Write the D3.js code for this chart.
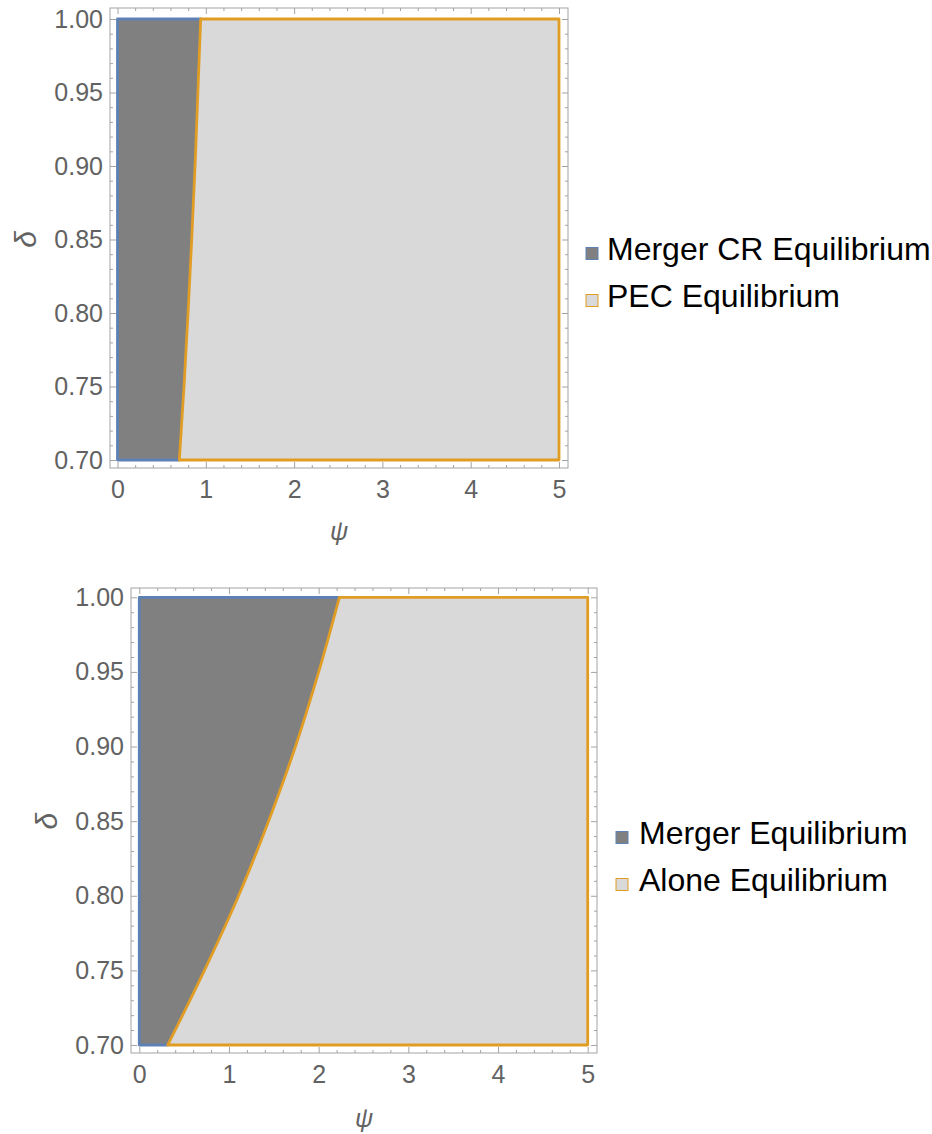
<!DOCTYPE html>
<html>
<head>
<meta charset="utf-8">
<script src="https://cdn.jsdelivr.net/npm/d3@7"></script>
<style>
  html, body { margin: 0; padding: 0; background: #fff; }
  svg { display: block; }
</style>
</head>
<body>
<svg id="chart" width="932" height="1134"></svg>
<script>
// Region boundaries: the ψ value at which the equilibrium switches, for each δ
const deltaGrid = [1.00, 0.95, 0.90, 0.85, 0.80, 0.75, 0.70];
const psiBoundaryCR = [0.942, 0.910, 0.878, 0.840, 0.799, 0.753, 0.700];
const psiBoundaryMerger = [2.231, 2.000, 1.741, 1.441, 1.107, 0.726, 0.317];

const psiDomain = [0, 5];
const deltaDomain = [0.70, 1.00];
const psiMajorTicks = [0, 1, 2, 3, 4, 5];
const deltaMajorTicks = [0.70, 0.75, 0.80, 0.85, 0.90, 0.95, 1.00];

const legendTop = ["Merger CR Equilibrium", "PEC Equilibrium"];
const legendBottom = ["Merger Equilibrium", "Alone Equilibrium"];

const FILL_DARK = "#808080";
const FILL_LIGHT = "#d9d9d9";
const EDGE_BLUE = "#5e81b5";
const EDGE_ORANGE = "#e19c24";
const FRAME = "#a3a3a3";
const LABEL = "#626262";
const FONT = "'Liberation Sans', Arial, Helvetica, sans-serif";

const svg = d3.select("#chart");

function minorValues(lo, hi, step, majors) {
  const out = [];
  const n = Math.round((hi - lo) / step);
  for (let i = 0; i <= n; i++) {
    const v = +(lo + i * step).toFixed(4);
    if (!majors.some(m => Math.abs(m - v) < 1e-9)) out.push(v);
  }
  return out;
}

function drawPanel(cfg) {
  const { frame, plotX, plotY, boundary, labels, legend } = cfg;
  const x = d3.scaleLinear().domain(psiDomain).range(plotX);
  const y = d3.scaleLinear().domain(deltaDomain).range(plotY);
  const g = svg.append("g");

  const pts = deltaGrid.map((d, i) => [x(boundary[i]), y(d)]);
  const curve = d3.line().curve(d3.curveMonotoneY)(pts);
  const curveAsLine = "L" + curve.slice(1);

  // left region (dark), outlined in blue
  const leftPath = `M${x(0)},${y(0.70)}L${x(0)},${y(1.00)}` + curveAsLine + "Z";
  g.append("path")
    .attr("d", leftPath)
    .attr("fill", FILL_DARK)
    .attr("stroke", EDGE_BLUE)
    .attr("stroke-width", 2.8)
    .attr("stroke-linejoin", "round");

  // right region (light), outlined in orange
  const rightPath = curve + `L${x(5)},${y(0.70)}L${x(5)},${y(1.00)}Z`;
  g.append("path")
    .attr("d", rightPath)
    .attr("fill", FILL_LIGHT)
    .attr("stroke", EDGE_ORANGE)
    .attr("stroke-width", 2.8)
    .attr("stroke-linejoin", "round");

  // frame
  g.append("rect")
    .attr("x", frame[0]).attr("y", frame[1])
    .attr("width", frame[2] - frame[0]).attr("height", frame[3] - frame[1])
    .attr("fill", "none").attr("stroke", FRAME).attr("stroke-width", 1);

  const psiMinor = minorValues(0, 5, 0.2, psiMajorTicks);
  const deltaMinor = minorValues(0.70, 1.00, 0.01, deltaMajorTicks);

  function styleAxis(sel) {
    sel.select(".domain").remove();
    sel.selectAll(".tick line").attr("stroke", FRAME).attr("stroke-width", 1);
    sel.selectAll(".tick text")
      .attr("fill", LABEL)
      .attr("font-family", FONT)
      .attr("font-size", 25);
  }

  const axes = [
    [() => d3.axisBottom(x), `translate(0,${frame[3]})`, psiMajorTicks, psiMinor, d3.format("d"), 12],
    [() => d3.axisTop(x), `translate(0,${frame[1]})`, psiMajorTicks, psiMinor, null, 0],
    [() => d3.axisLeft(y), `translate(${frame[0]},0)`, deltaMajorTicks, deltaMinor, d3.format(".2f"), 7],
    [() => d3.axisRight(y), `translate(${frame[2]},0)`, deltaMajorTicks, deltaMinor, null, 0]
  ];
  axes.forEach(([make, tr, majors, minors, fmt, pad]) => {
    const major = make().tickValues(majors).tickSize(-6).tickPadding(pad)
      .tickFormat(fmt ? fmt : () => "");
    g.append("g").attr("transform", tr).call(major).call(styleAxis);
    const minor = make().tickValues(minors).tickSize(-3).tickFormat(() => "");
    g.append("g").attr("transform", tr).call(minor).call(styleAxis);
  });

  // axis labels
  const cx = (frame[0] + frame[2]) / 2;
  const cy = (plotY[0] + plotY[1]) / 2;
  g.append("text")
    .attr("transform", `translate(${labels.deltaX},${cy}) rotate(-90)`)
    .attr("text-anchor", "middle")
    .attr("dy", "0.35em")
    .attr("font-family", FONT)
    .attr("font-style", "italic")
    .attr("font-size", 30)
    .attr("fill", LABEL)
    .text("δ");
  g.append("text")
    .attr("x", cx)
    .attr("y", labels.psiY)
    .attr("text-anchor", "middle")
    .attr("font-family", FONT)
    .attr("font-style", "italic")
    .attr("font-size", 25)
    .attr("fill", LABEL)
    .text("ψ");

  // legend
  const fills = [FILL_DARK, FILL_LIGHT];
  const edges = [EDGE_BLUE, EDGE_ORANGE];
  legend.items.forEach((name, i) => {
    const base = legend.baselines[i];
    g.append("rect")
      .attr("x", legend.swatchX)
      .attr("y", base - 12.5)
      .attr("width", 12)
      .attr("height", 12)
      .attr("fill", fills[i])
      .attr("stroke", edges[i])
      .attr("stroke-width", 1);
    g.append("text")
      .attr("x", legend.textX)
      .attr("y", base)
      .attr("font-family", FONT)
      .attr("font-size", legend.fontSize)
      .attr("fill", "#000")
      .text(name);
  });
}

drawPanel({
  frame: [110, 8, 568, 468],
  plotX: [117.5, 559],
  plotY: [460, 19],
  boundary: psiBoundaryCR,
  labels: { deltaX: 25, psiY: 540 },
  legend: { items: legendTop, swatchX: 586, textX: 607, baselines: [260, 307], fontSize: 32 }
});

drawPanel({
  frame: [131, 588, 597, 1053],
  plotX: [139.3, 587.7],
  plotY: [1045, 597.3],
  boundary: psiBoundaryMerger,
  labels: { deltaX: 46, psiY: 1127 },
  legend: { items: legendBottom, swatchX: 616, textX: 639, baselines: [844, 891], fontSize: 32 }
});
</script>
</body>
</html>
